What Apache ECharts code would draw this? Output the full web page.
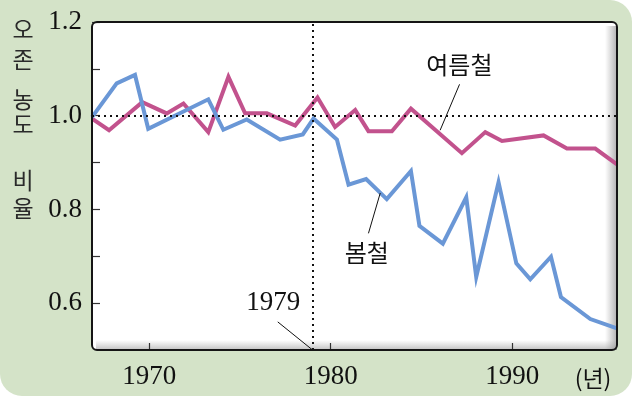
<!DOCTYPE html>
<html>
<head>
<meta charset="utf-8">
<script src="https://cdn.jsdelivr.net/npm/echarts@6/dist/echarts.min.js"></script>
<style>
  html, body { margin: 0; padding: 0; background: #ffffff; }
  #chart { width: 639px; height: 398px; }
</style>
</head>
<body>
<div id="chart"></div>
<script>
// ---- data ----
var springYears = [1966.84, 1968.20, 1969.21, 1969.94, 1973.25, 1974.08, 1975.37, 1977.21, 1978.46, 1979.05,
                   1980.34, 1980.98, 1981.95, 1983.09, 1984.42, 1984.89, 1986.18, 1987.47, 1988.02, 1989.25,
                   1990.23, 1991.00, 1992.14, 1992.69, 1994.31, 1995.78];
var springRatio = [0.997, 1.069, 1.087, 0.972, 1.035, 0.970, 0.992, 0.949, 0.960, 0.994,
                   0.949, 0.853, 0.865, 0.822, 0.882, 0.765, 0.727, 0.826, 0.656, 0.858,
                   0.685, 0.651, 0.699, 0.613, 0.566, 0.546];
var summerYears = [1966.84, 1967.78, 1969.61, 1970.96, 1971.88, 1973.25, 1974.36, 1975.28, 1976.48, 1978.04,
                   1979.27, 1980.24, 1981.35, 1982.08, 1983.37, 1984.42, 1987.23, 1988.52, 1989.44, 1991.73,
                   1993.02, 1994.58, 1995.78];
var summerRatio = [0.994, 0.969, 1.029, 1.005, 1.026, 0.965, 1.083, 1.005, 1.005, 0.979,
                   1.039, 0.976, 1.012, 0.967, 0.967, 1.015, 0.920, 0.965, 0.946, 0.958,
                   0.930, 0.930, 0.896];
var xTickYears = [1970, 1980, 1990];
var yTickValues = [0.6, 0.7, 0.8, 0.9, 1.0, 1.1, 1.2];
var yLabelValues = [0.6, 0.8, 1.0, 1.2];
var markYear = 1979;
var refRatio = 1.0;
var springName = '봄철';
var summerName = '여름철';
var yTitleParts = ['오\n존', '농\n도', '비\n율'];
var xUnit = '(년)';

function zip(xs, ys) { return xs.map(function (x, i) { return [x, ys[i]]; }); }

var serif = '"Liberation Serif", "DejaVu Serif", serif';
var kfont = '"Noto Sans CJK KR", "Noto Sans", sans-serif';

var chart = echarts.init(document.getElementById('chart'), null, { renderer: 'canvas' });

var gridL = 92, gridT = 22, gridR = 22, gridB = 48;
var W = 639, H = 398;
var pw = W - gridL - gridR, ph = H - gridT - gridB;

var option = {
  animation: false,
  backgroundColor: '#ffffff',
  grid: { left: gridL, right: gridR, top: gridT, bottom: gridB, outerBoundsMode: 'none', show: false },
  xAxis: {
    type: 'value',
    min: 1966.84,
    max: 1995.78,
    axisLine: { show: false },
    splitLine: { show: false },
    axisTick: { show: true, inside: true, length: 7, customValues: xTickYears, lineStyle: { color: '#333', width: 1.2 } },
    axisLabel: { customValues: xTickYears, margin: 13, color: '#111', fontFamily: serif, fontSize: 27,
                 formatter: function (v) { return String(Math.round(v)); } }
  },
  yAxis: {
    type: 'value',
    min: 0.5,
    max: 1.2,
    axisLine: { show: false },
    splitLine: { show: false },
    axisTick: { show: true, inside: true, length: 8, customValues: yTickValues, lineStyle: { color: '#333', width: 1.2 } },
    axisLabel: { customValues: yLabelValues, margin: 10, color: '#111', fontFamily: serif, fontSize: 27,
                 formatter: function (v) { return v.toFixed(1); } }
  },
  graphic: [
    { type: 'rect', z: -30, silent: true,
      shape: { x: 0, y: 0, width: 632, height: 396, r: [0, 22, 22, 22] },
      style: { fill: '#d4e3c8' } },
    { type: 'rect', z: -20, silent: true,
      shape: { x: gridL, y: gridT, width: pw, height: ph, r: 5 },
      style: { fill: '#ffffff' } },
    { type: 'rect', z: -19, silent: true,
      shape: { x: gridL + pw - 12, y: gridT + 4, width: 12, height: ph - 4 },
      style: { fill: new echarts.graphic.LinearGradient(0, 0, 1, 0, [
        { offset: 0, color: 'rgba(160,160,160,0)' }, { offset: 1, color: 'rgba(150,150,150,0.75)' }]) } },
    { type: 'rect', z: -19, silent: true,
      shape: { x: gridL + 4, y: gridT + ph - 10, width: pw - 4, height: 10 },
      style: { fill: new echarts.graphic.LinearGradient(0, 0, 0, 1, [
        { offset: 0, color: 'rgba(160,160,160,0)' }, { offset: 1, color: 'rgba(150,150,150,0.6)' }]) } },
    { type: 'rect', z: 100, silent: true,
      shape: { x: gridL, y: gridT, width: pw, height: ph, r: 5 },
      style: { fill: null, stroke: '#151515', lineWidth: 2 } },
    { type: 'text', z: 100, silent: true, x: 23, y: 44,
      style: { text: yTitleParts[0], font: '23px ' + kfont, fill: '#2a2a2a', align: 'center', verticalAlign: 'middle', lineHeight: 30 } },
    { type: 'text', z: 100, silent: true, x: 23, y: 112,
      style: { text: yTitleParts[1], font: '23px ' + kfont, fill: '#2a2a2a', align: 'center', verticalAlign: 'middle', lineHeight: 25 } },
    { type: 'text', z: 100, silent: true, x: 23, y: 194,
      style: { text: yTitleParts[2], font: '23px ' + kfont, fill: '#2a2a2a', align: 'center', verticalAlign: 'middle', lineHeight: 28 } },
    { type: 'text', z: 100, silent: true, x: 593, y: 378,
      style: { text: xUnit, font: '23px ' + kfont, fill: '#111', align: 'center', verticalAlign: 'middle' } }
  ],
  series: [
    {
      name: 'guides',
      type: 'line',
      data: [],
      z: 1,
      silent: true,
      markLine: {
        silent: true,
        symbol: 'none',
        label: { show: false },
        animation: false,
        lineStyle: { color: '#111', type: [2, 4], width: 2 },
        data: [
          { xAxis: markYear },
          { yAxis: refRatio },
          [ { coord: [1977.08, 0.560] }, { coord: [markYear, 0.5], lineStyle: { type: 'solid', width: 1, color: '#111' } } ],
          [ { coord: [1987.10, 1.067] }, { coord: [1986.03, 0.969], lineStyle: { type: 'solid', width: 1, color: '#111' } } ],
          [ { coord: [1982.08, 0.749] }, { coord: [1982.73, 0.835], lineStyle: { type: 'solid', width: 1, color: '#111' } } ]
        ]
      },
      markPoint: {
        silent: true,
        symbol: 'circle',
        symbolSize: 1,
        itemStyle: { color: 'rgba(0,0,0,0)' },
        animation: false,
        data: [
          { coord: [1987.09, 1.108], value: summerName,
            label: { show: true, position: 'inside', formatter: summerName, color: '#111', fontFamily: kfont, fontSize: 24 } },
          { coord: [1981.99, 0.708], value: springName,
            label: { show: true, position: 'inside', formatter: springName, color: '#111', fontFamily: kfont, fontSize: 24 } },
          { coord: [1976.83, 0.600], value: String(markYear),
            label: { show: true, position: 'inside', formatter: String(markYear), color: '#111', fontFamily: serif, fontSize: 27 } }
        ]
      }
    },
    {
      name: summerName,
      type: 'line',
      z: 3,
      symbol: 'none',
      data: zip(summerYears, summerRatio),
      lineStyle: { color: '#c2528d', width: 4, join: 'miter' },
      itemStyle: { color: '#c2528d' }
    },
    {
      name: springName,
      type: 'line',
      z: 4,
      symbol: 'none',
      data: zip(springYears, springRatio),
      lineStyle: { color: '#6a97d6', width: 4, join: 'miter' },
      itemStyle: { color: '#6a97d6' }
    }
  ]
};

chart.setOption(option);
</script>
</body>
</html>
